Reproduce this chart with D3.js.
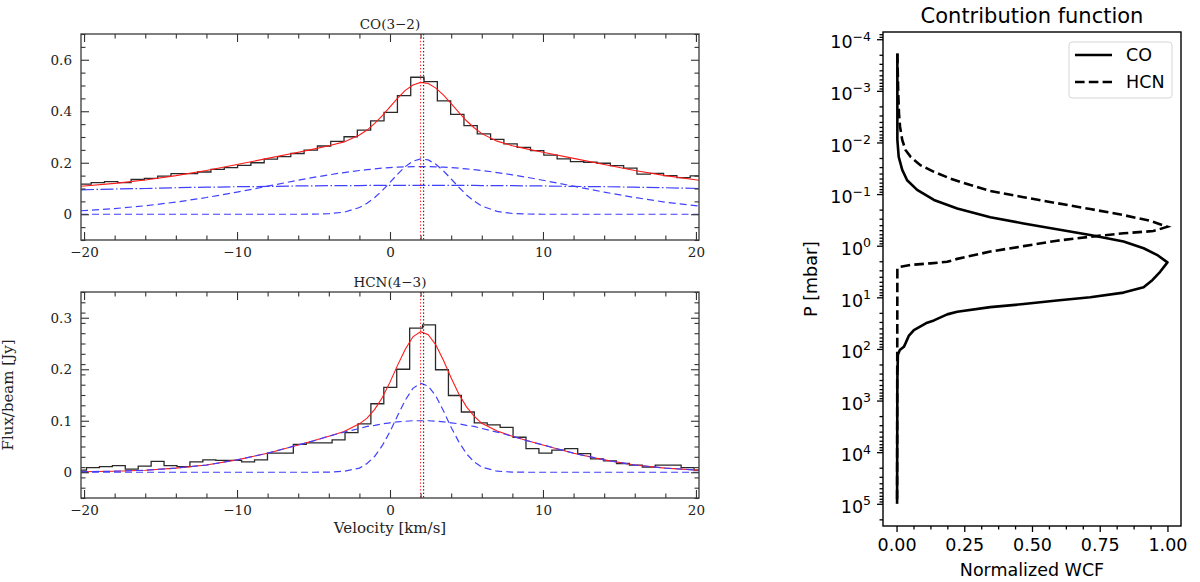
<!DOCTYPE html>
<html>
<head>
<meta charset="utf-8" />
<title>CO(3-2) / HCN(4-3) spectra and contribution function</title>
<style>
  body { margin: 0; background: #fff; }
  svg { display: block; }
  .serif text { font-family: "DejaVu Serif", serif; fill: #222; }
  .sans text { font-family: "DejaVu Sans", sans-serif; fill: #000; }
</style>
</head>
<body>
<svg id="fig" width="1200" height="582"></svg>
<script src="https://cdn.jsdelivr.net/npm/d3@7/dist/d3.min.js"></script>
<script>
// ---- spectra: observed channels (bin centres, km/s) ----
const coBinCenter = [-19.97, -19.1, -18.23, -17.36, -16.49, -15.62, -14.75, -13.88, -13.01, -12.14,
  -11.27, -10.4, -9.53, -8.66, -7.79, -6.92, -6.05, -5.18, -4.31, -3.44, -2.57, -1.7, -0.83, 0.05,
  0.92, 1.79, 2.66, 3.53, 4.4, 5.27, 6.14, 7.01, 7.88, 8.75, 9.62, 10.49, 11.36, 12.23, 13.1, 13.97,
  14.84, 15.71, 16.58, 17.45, 18.32, 19.19, 20.06];
const coFlux = [0.117, 0.123, 0.127, 0.123, 0.135, 0.139, 0.148, 0.158, 0.158, 0.164,
  0.174, 0.181, 0.19, 0.2, 0.214, 0.224, 0.236, 0.249, 0.265, 0.283, 0.301, 0.327, 0.363, 0.396,
  0.461, 0.532, 0.515, 0.44, 0.388, 0.344, 0.312, 0.291, 0.273, 0.26, 0.247, 0.23, 0.215, 0.204,
  0.202, 0.198, 0.189, 0.179, 0.156, 0.159, 0.15, 0.142, 0.149];

const hcnBinCenter = [-20.26, -19.42, -18.57, -17.73, -16.88, -16.04, -15.19, -14.35, -13.5, -12.66,
  -11.81, -10.97, -10.12, -9.28, -8.43, -7.59, -6.74, -5.9, -5.05, -4.21, -3.36, -2.52, -1.67, -0.83,
  0.02, 0.86, 1.71, 2.55, 3.4, 4.24, 5.09, 5.93, 6.78, 7.62, 8.47, 9.31, 10.16, 11.0, 11.85, 12.69,
  13.54, 14.38, 15.23, 16.07, 16.92, 17.76, 18.61, 19.45, 20.3];
const hcnFlux = [0.004, 0.009, 0.011, 0.013, 0.006, 0.012, 0.021, 0.013, 0.011, 0.02,
  0.024, 0.023, 0.023, 0.02, 0.024, 0.037, 0.037, 0.054, 0.057, 0.057, 0.063, 0.077, 0.094, 0.133,
  0.165, 0.2, 0.28, 0.286, 0.199, 0.149, 0.117, 0.096, 0.092, 0.087, 0.068, 0.046, 0.037, 0.043,
  0.046, 0.036, 0.026, 0.022, 0.017, 0.014, 0.01, 0.014, 0.014, 0.009, 0.004];

// ---- fitted model and its components, on a common velocity grid ----
const modelVelocity = [-20.2, -18, -16, -14, -12, -10, -8, -6, -5, -4, -3, -2, -1.5, -1, -0.5, 0,
  0.5, 1, 1.5, 2, 2.5, 3, 3.5, 4, 4.5, 5, 5.5, 6, 7, 8, 9, 10, 12, 14, 16, 18, 20.2];
const coFit = [0.109, 0.12, 0.133, 0.15, 0.17, 0.193, 0.217, 0.241, 0.253, 0.266, 0.281, 0.308,
  0.327, 0.353, 0.383, 0.417, 0.451, 0.481, 0.502, 0.512, 0.508, 0.49, 0.463, 0.43, 0.396, 0.363,
  0.336, 0.313, 0.284, 0.266, 0.253, 0.241, 0.217, 0.193, 0.17, 0.15, 0.132];
const coFlat = [0.095, 0.098, 0.1, 0.103, 0.105, 0.107, 0.108, 0.11, 0.11, 0.111, 0.111, 0.111,
  0.112, 0.112, 0.112, 0.112, 0.112, 0.112, 0.112, 0.112, 0.112, 0.112, 0.112, 0.112, 0.112, 0.112,
  0.112, 0.111, 0.111, 0.111, 0.11, 0.11, 0.108, 0.107, 0.105, 0.103, 0.1];
const coBroad = [0.0135, 0.022, 0.033, 0.047, 0.065, 0.086, 0.109, 0.132, 0.143, 0.153, 0.162, 0.17,
  0.173, 0.176, 0.179, 0.181, 0.183, 0.184, 0.185, 0.185, 0.185, 0.184, 0.183, 0.181, 0.179, 0.176,
  0.173, 0.17, 0.162, 0.153, 0.143, 0.132, 0.109, 0.086, 0.065, 0.047, 0.032];
const coNarrow = [0, 0, 0, 0, 0, 0, 0, 0, 0.0004, 0.002, 0.008, 0.026, 0.043, 0.065, 0.092, 0.124,
  0.156, 0.185, 0.206, 0.215, 0.211, 0.194, 0.168, 0.137, 0.105, 0.075, 0.051, 0.032, 0.011, 0.003,
  0.001, 0, 0, 0, 0, 0, 0];

const hcnFit = [0.001, 0.002, 0.004, 0.008, 0.014, 0.024, 0.037, 0.053, 0.061, 0.07, 0.079, 0.094,
  0.105, 0.122, 0.145, 0.175, 0.208, 0.239, 0.263, 0.273, 0.267, 0.247, 0.217, 0.183, 0.152, 0.127,
  0.109, 0.095, 0.08, 0.07, 0.061, 0.053, 0.037, 0.024, 0.014, 0.008, 0.004];
const hcnBroad = [0.001, 0.002, 0.004, 0.008, 0.014, 0.024, 0.037, 0.053, 0.061, 0.07, 0.078, 0.085,
  0.089, 0.091, 0.094, 0.096, 0.098, 0.099, 0.1, 0.1, 0.1, 0.099, 0.098, 0.096, 0.094, 0.091,
  0.089, 0.085, 0.078, 0.07, 0.061, 0.053, 0.037, 0.024, 0.014, 0.008, 0.004];
const hcnNarrow = [0, 0, 0, 0, 0, 0, 0, 0, 0, 0.0002, 0.002, 0.008, 0.017, 0.031, 0.052, 0.079,
  0.11, 0.14, 0.163, 0.173, 0.167, 0.148, 0.119, 0.087, 0.059, 0.036, 0.02, 0.01, 0.002, 0.0003,
  0, 0, 0, 0, 0, 0, 0];

// systemic velocity markers (km/s)
const velMarkRed = 2.0;
const velMarkBlack = 2.2;

const velTicks = [-20, -10, 0, 10, 20];
const coFluxTicks = [0, 0.2, 0.4, 0.6];
const hcnFluxTicks = [0, 0.1, 0.2, 0.3];

// ---- contribution function ----
const coPressure = [1.9e-4, 8.9e-3, 0.019, 0.034, 0.054, 0.083, 0.13, 0.19, 0.28, 0.37, 0.48, 0.62,
  0.83, 1.12, 1.5, 2.1, 3.2, 4.6, 6.4, 8.1, 10, 11.5, 13.5, 15.5, 19, 21.4, 28, 31, 43, 56, 78, 91,
  105, 130, 400, 1e5];
const coWCF = [0.003, 0.003, 0.008, 0.021, 0.039, 0.076, 0.138, 0.224, 0.346, 0.469, 0.592, 0.715,
  0.838, 0.912, 0.961, 1.0, 0.973, 0.945, 0.912, 0.838, 0.715, 0.592, 0.469, 0.346, 0.224, 0.187,
  0.138, 0.113, 0.064, 0.045, 0.033, 0.027, 0.012, 0.005, 0.003, 0.002];
const hcnPressure = [1.9e-4, 1.0e-3, 2.75e-3, 5.0e-3, 8.9e-3, 0.014, 0.019, 0.0275, 0.037, 0.05,
  0.067, 0.087, 0.115, 0.15, 0.195, 0.255, 0.33, 0.43, 0.52, 0.575, 0.67, 0.8, 1.02, 1.3, 1.8, 2.05,
  2.2, 2.35, 2.55, 2.75, 1e5];
const hcnWCF = [0.003, 0.006, 0.009, 0.013, 0.021, 0.033, 0.052, 0.088, 0.138, 0.199, 0.273, 0.346,
  0.469, 0.592, 0.715, 0.838, 0.936, 1.0, 0.948, 0.838, 0.715, 0.592, 0.469, 0.346, 0.224, 0.187,
  0.125, 0.052, 0.015, 0.003, 0.002];

const wcfTicks = [0, 0.25, 0.5, 0.75, 1.0];
const pressureExponents = [-4, -3, -2, -1, 0, 1, 2, 3, 4, 5];

const svg = d3.select("#fig");
const BLUE = "#4040ff";

// ================= left: spectra =================
const velScale = d3.scaleLinear().domain([-20.2, 20.2]).range([81, 699]);

function spectrumPanel(p) {
  const x = velScale;
  const y = d3.scaleLinear().domain(p.yRange).range([p.bottom, p.top]);
  const g = svg.append("g").attr("class", "serif").style("color", "#333");

  g.append("clipPath").attr("id", p.id)
    .append("rect")
    .attr("x", x.range()[0]).attr("y", p.top)
    .attr("width", x.range()[1] - x.range()[0]).attr("height", p.bottom - p.top);
  const plot = g.append("g").attr("clip-path", `url(#${p.id})`);

  // observed spectrum as a histogram
  const w = p.centers[1] - p.centers[0];
  const n = p.centers.length;
  const pts = [[p.centers[0] - w / 2, p.flux[0]]]
    .concat(p.centers.map((c, i) => [c, p.flux[i]]))
    .concat([[p.centers[n - 1] + w / 2, p.flux[n - 1]]]);
  plot.append("path")
    .attr("d", d3.line().x(d => x(d[0])).y(d => y(d[1])).curve(d3.curveStep)(pts))
    .attr("fill", "none").attr("stroke", "#2a2a2a").attr("stroke-width", 1.3);

  const line = d3.line().x((d, i) => x(modelVelocity[i])).y(d => y(d));

  plot.append("path").attr("d", line(p.fit))
    .attr("fill", "none").attr("stroke", "#ff1a1a").attr("stroke-width", 1.1);

  p.components.forEach(c => {
    plot.append("path").attr("d", line(c.values))
      .attr("fill", "none").attr("stroke", BLUE).attr("stroke-width", 1.2)
      .attr("stroke-dasharray", c.dash);
  });

  // velocity markers
  [[velMarkRed, "#ff2020"], [velMarkBlack, "#111"]].forEach(([v, col]) => {
    plot.append("line")
      .attr("x1", x(v)).attr("x2", x(v)).attr("y1", p.top).attr("y2", p.bottom)
      .attr("stroke", col).attr("stroke-width", 1).attr("stroke-dasharray", "1.4,2");
  });

  // axes, ticks pointing inwards on all four sides
  const major = 8, minor = 4.5;
  const velMinor = d3.range(-20, 20.1, 2).filter(v => v % 10 !== 0);
  const yMinor = d3.range(p.yRange[0], p.yRange[1] + 1e-9, p.minorStep)
    .filter(v => !p.ticks.some(t => Math.abs(t - v) < 1e-6));
  const fmtY = d => d === 0 ? "0" : d3.format(".1f")(d);

  const ax = (axis, tr) => g.append("g").attr("transform", tr)
    .call(axis).call(s => s.select(".domain").remove());

  ax(d3.axisBottom(x).tickValues(velTicks).tickSize(-major).tickPadding(7)
    .tickFormat(d3.format("d")), `translate(0,${p.bottom})`);
  ax(d3.axisBottom(x).tickValues(velMinor).tickSize(-minor).tickFormat(""), `translate(0,${p.bottom})`);
  ax(d3.axisTop(x).tickValues(velTicks).tickSize(-major).tickFormat(""), `translate(0,${p.top})`);
  ax(d3.axisTop(x).tickValues(velMinor).tickSize(-minor).tickFormat(""), `translate(0,${p.top})`);
  ax(d3.axisLeft(y).tickValues(p.ticks).tickSize(-major).tickPadding(9).tickFormat(fmtY),
    `translate(${x.range()[0]},0)`);
  ax(d3.axisLeft(y).tickValues(yMinor).tickSize(-minor).tickFormat(""), `translate(${x.range()[0]},0)`);
  ax(d3.axisRight(y).tickValues(p.ticks).tickSize(-major).tickFormat(""), `translate(${x.range()[1]},0)`);
  ax(d3.axisRight(y).tickValues(yMinor).tickSize(-minor).tickFormat(""), `translate(${x.range()[1]},0)`);

  g.selectAll(".tick line").attr("stroke-width", 1.1);
  g.selectAll(".tick text").style("font-size", "13.5px");

  g.append("rect")
    .attr("x", x.range()[0]).attr("y", p.top)
    .attr("width", x.range()[1] - x.range()[0]).attr("height", p.bottom - p.top)
    .attr("fill", "none").attr("stroke", "#3a3a3a").attr("stroke-width", 1.3);

  g.append("text")
    .attr("x", 390).attr("y", p.top - 5)
    .attr("text-anchor", "middle").style("font-size", "13.5px")
    .text(p.title);
  return g;
}

spectrumPanel({
  id: "clipCO", title: "CO(3\u22122)", top: 34, bottom: 240, yRange: [-0.1, 0.7],
  ticks: coFluxTicks, minorStep: 0.05,
  centers: coBinCenter, flux: coFlux, fit: coFit,
  components: [
    { values: coFlat, dash: "13,2.5,1.5,2.5" },
    { values: coBroad, dash: "7,4" },
    { values: coNarrow, dash: "7,4" }
  ]
});

const hcnG = spectrumPanel({
  id: "clipHCN", title: "HCN(4\u22123)", top: 292, bottom: 498, yRange: [-0.05, 0.35],
  ticks: hcnFluxTicks, minorStep: 0.02,
  centers: hcnBinCenter, flux: hcnFlux, fit: hcnFit,
  components: [
    { values: hcnBroad, dash: "7,4" },
    { values: hcnNarrow, dash: "7,4" }
  ]
});

hcnG.append("text")
  .attr("x", 390).attr("y", 533)
  .attr("text-anchor", "middle").style("font-size", "15px")
  .text("Velocity [km/s]");

hcnG.append("text")
  .attr("transform", "translate(13,395) rotate(-90)")
  .attr("text-anchor", "middle").style("font-size", "15px")
  .text("Flux/beam [Jy]");

// ================= right: contribution function =================
const xw = d3.scaleLinear().domain([-0.05, 1.05]).range([883, 1181]);
const yp = d3.scaleLog().domain([Math.pow(10, -4.14), Math.pow(10, 5.43)]).range([32, 526]);

const rg = svg.append("g").attr("class", "sans").style("color", "#000");

const wcfLine = d3.line().x(d => xw(d[1])).y(d => yp(d[0]));

rg.append("path")
  .attr("d", wcfLine(coPressure.map((p, i) => [p, coWCF[i]])))
  .attr("fill", "none").attr("stroke", "#000").attr("stroke-width", 2.6)
  .attr("stroke-linejoin", "round");
rg.append("path")
  .attr("d", wcfLine(hcnPressure.map((p, i) => [p, hcnWCF[i]])))
  .attr("fill", "none").attr("stroke", "#000").attr("stroke-width", 2.6)
  .attr("stroke-dasharray", "9.6,4.2");

// ticks (outward, left and bottom only)
const wcfMinor = d3.range(0, 1.0001, 0.0625).filter(v => !wcfTicks.includes(v));
const [pLo, pHi] = yp.domain();
const pMinor = [];
d3.range(-5, 6).forEach(e => d3.range(2, 10).forEach(k => {
  const v = k * Math.pow(10, e);
  if (v >= pLo && v <= pHi) pMinor.push(v);
}));

const rax = (axis, tr) => rg.append("g").attr("transform", tr)
  .call(axis).call(s => s.select(".domain").remove());

rax(d3.axisBottom(xw).tickValues(wcfTicks).tickSize(6).tickPadding(7).tickFormat(d3.format(".2f")),
  "translate(0,526)");
rax(d3.axisBottom(xw).tickValues(wcfMinor).tickSize(3.5).tickFormat(""), "translate(0,526)");
rax(d3.axisLeft(yp).tickValues(pMinor).tickSize(3.5).tickFormat(""), "translate(883,0)");
rax(d3.axisLeft(yp).tickValues(pressureExponents.map(e => Math.pow(10, e)))
  .tickSize(6).tickPadding(6).tickFormat(""), "translate(883,0)")
  .call(s => s.selectAll(".tick").append("text")
    .attr("x", -12).attr("dy", "0.5em").attr("text-anchor", "end")
    .each(function (d) {
      const e = Math.round(Math.log10(d));
      const t = d3.select(this);
      t.append("tspan").text("10");
      t.append("tspan").attr("dy", "-0.62em").style("font-size", "12.5px")
        .text(e < 0 ? "\u2212" + (-e) : String(e));
    }));

rg.selectAll(".tick line").attr("stroke-width", 1.3);
rg.selectAll(".tick text").style("font-size", "17.5px");
rg.selectAll(".tick text tspan + tspan").style("font-size", "12.5px");

rg.append("rect")
  .attr("x", 883).attr("y", 32).attr("width", 1181 - 883).attr("height", 526 - 32)
  .attr("fill", "none").attr("stroke", "#000").attr("stroke-width", 1.4);

rg.append("text").attr("x", 1032).attr("y", 23).attr("text-anchor", "middle")
  .style("font-size", "21px").text("Contribution function");
rg.append("text").attr("x", 1032).attr("y", 576).attr("text-anchor", "middle")
  .style("font-size", "17.5px").text("Normalized WCF");
rg.append("text").attr("transform", "translate(817,279) rotate(-90)").attr("text-anchor", "middle")
  .style("font-size", "17.5px").text("P [mbar]");

// legend
const leg = rg.append("g");
leg.append("rect").attr("x", 1069).attr("y", 42).attr("width", 103).attr("height", 56).attr("rx", 3)
  .attr("fill", "#fff").attr("fill-opacity", 0.8).attr("stroke", "#d6d6d6");
[["CO", null, 55], ["HCN", "9.6,4.2", 82]].forEach(([name, dash, ly]) => {
  leg.append("line").attr("x1", 1075).attr("x2", 1112).attr("y1", ly).attr("y2", ly)
    .attr("stroke", "#000").attr("stroke-width", 2.6).attr("stroke-dasharray", dash);
  leg.append("text").attr("x", 1126).attr("y", ly).attr("dy", "0.36em")
    .style("font-size", "17.5px").text(name);
});
</script>
</body>
</html>
